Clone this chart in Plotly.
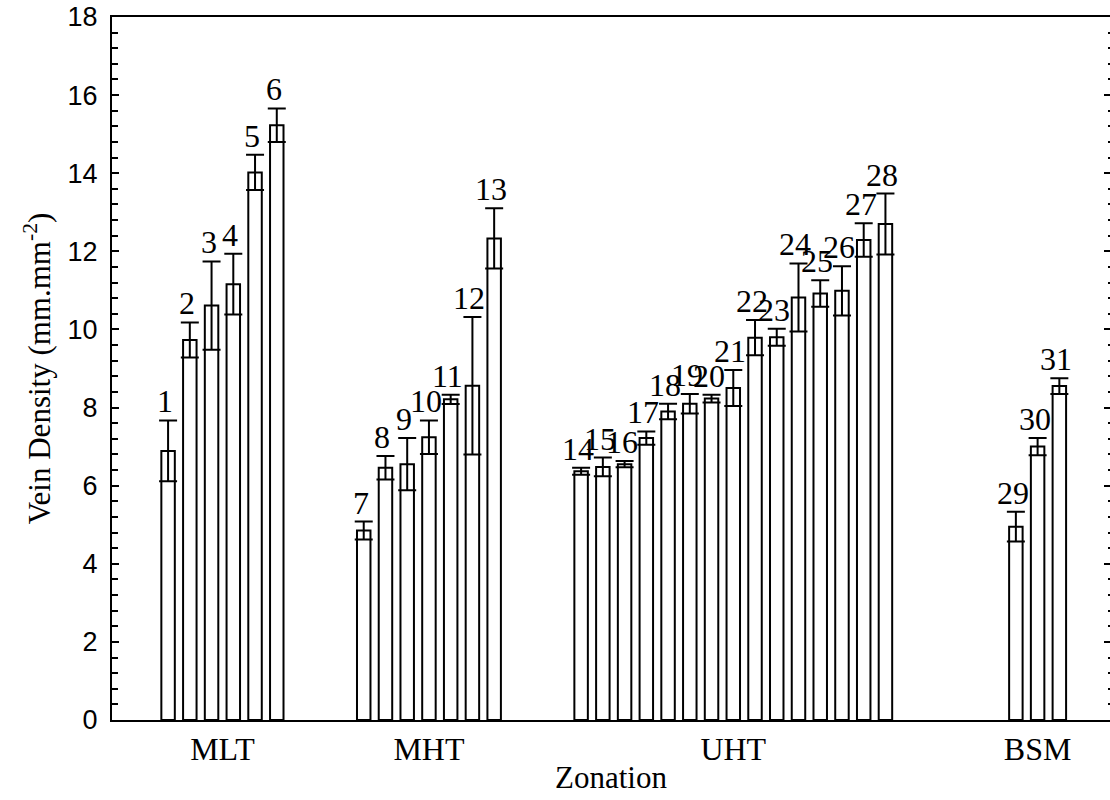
import plotly.graph_objects as go

# Zones and number of samples in each
zones = ["MLT", "MHT", "UHT", "BSM"]
zone_sizes = [6, 7, 15, 3]
zone_gaps = [3, 3, 5]  # empty slots left before MHT, UHT and BSM

sample_ids = list(range(1, 32))
vein_density = [
    6.89, 9.73, 10.61, 11.16, 14.02, 15.23,                 # MLT
    4.85, 6.46, 6.55, 7.24, 8.21, 8.56, 12.33,              # MHT
    6.37, 6.48, 6.55, 7.22, 7.90, 8.10, 8.23, 8.50, 9.79,   # UHT
    9.80, 10.82, 10.92, 10.99, 12.29, 12.70,
    4.95, 7.00, 8.55,                                       # BSM
]
vein_err = [
    0.78, 0.45, 1.13, 0.78, 0.45, 0.43,
    0.23, 0.30, 0.67, 0.43, 0.12, 1.76, 0.77,
    0.09, 0.24, 0.08, 0.17, 0.20, 0.25, 0.10, 0.46, 0.45,
    0.22, 0.87, 0.34, 0.63, 0.43, 0.78,
    0.38, 0.22, 0.20,
]

# Slot position of every bar along the x axis
x_pos = []
slot = 0
for zi, n in enumerate(zone_sizes):
    if zi > 0:
        slot += zone_gaps[zi - 1]
    for _ in range(n):
        x_pos.append(slot)
        slot += 1

zone_centers = []
start = 0
for n in zone_sizes:
    members = x_pos[start:start + n]
    zone_centers.append(sum(members) / n)
    start += n

SERIF = "Liberation Serif, Times New Roman, serif"
SANS = "Liberation Sans, Arial, sans-serif"

fig = go.Figure()

fig.add_trace(go.Bar(
    x=x_pos,
    y=vein_density,
    width=0.62,
    marker=dict(color="white", line=dict(color="black", width=2)),
    error_y=dict(type="data", array=vein_err, color="black",
                 thickness=2, width=9),
    hoverinfo="skip",
))

# Carrier for the mirrored right-hand tick marks
fig.add_trace(go.Scatter(
    x=[x_pos[0]], y=[0], yaxis="y2", mode="markers",
    marker=dict(opacity=0), hoverinfo="skip",
))

# Sample numbers sitting just above the error caps
for sid, xv, v, e in zip(sample_ids, x_pos, vein_density, vein_err):
    fig.add_annotation(
        x=xv, y=v + e, xref="x", yref="y",
        text=str(sid), showarrow=False,
        xanchor="center", yanchor="bottom", xshift=-3, yshift=-1,
        font=dict(family=SERIF, size=32, color="black"),
    )

fig.update_layout(
    width=1110,
    height=800,
    margin=dict(l=112, r=0, t=17, b=80),
    paper_bgcolor="white",
    plot_bgcolor="white",
    showlegend=False,
    xaxis=dict(
        range=[-2.58, 43.33],
        tickvals=zone_centers,
        ticktext=zones,
        ticks="",
        tickfont=dict(family=SERIF, size=32, color="black"),
        showline=True,
        linecolor="black",
        linewidth=2,
        mirror=True,
        showgrid=False,
        zeroline=False,
        title=dict(text="Zonation", font=dict(family=SERIF, size=31, color="black"),
                   standoff=0),
    ),
    yaxis=dict(
        range=[0, 18],
        dtick=2,
        tick0=0,
        ticks="inside",
        ticklen=7,
        tickwidth=2,
        tickcolor="black",
        minor=dict(dtick=0.4, tick0=0, ticks="inside", ticklen=6,
                   tickwidth=1.5, tickcolor="black", showgrid=False),
        tickfont=dict(family=SANS, size=27, color="black"),
        ticklabelstandoff=7,
        showline=True,
        linecolor="black",
        linewidth=2,
        showgrid=False,
        zeroline=False,
        title=dict(text="Vein Density (mm.mm<sup>-2</sup>)",
                   font=dict(family=SERIF, size=31, color="black"),
                   standoff=8),
    ),
    yaxis2=dict(
        overlaying="y",
        side="right",
        range=[0, 18],
        dtick=2,
        tick0=0,
        ticks="inside",
        ticklen=6,
        tickwidth=2,
        tickcolor="black",
        minor=dict(dtick=0.4, tick0=0, ticks="inside", ticklen=2,
                   tickwidth=2, tickcolor="black", showgrid=False),
        showticklabels=False,
        showline=False,
        showgrid=False,
        zeroline=False,
    ),
)

fig.write_html("out.html")
